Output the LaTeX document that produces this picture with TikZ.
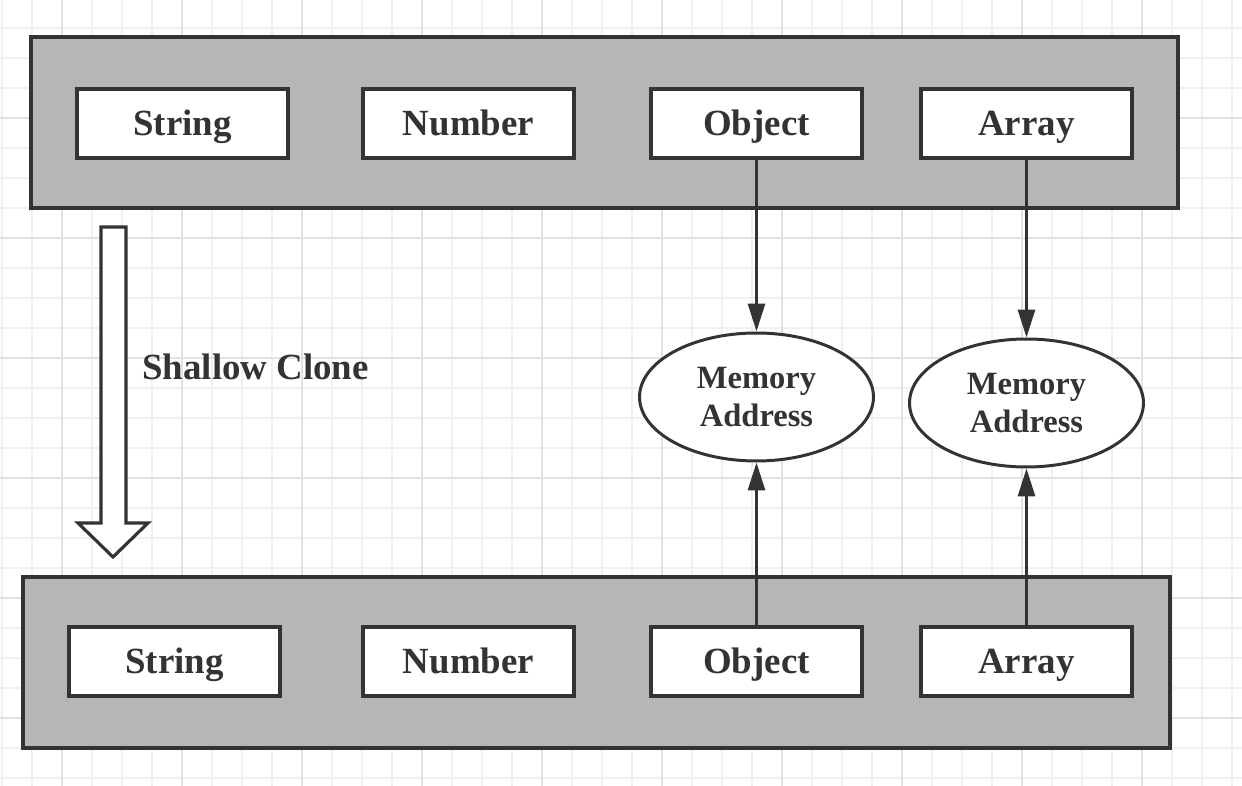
\documentclass[tikz,border=0pt]{standalone}
\usepackage{fontspec}
\setmainfont{Liberation Serif}
\usetikzlibrary{arrows.meta,positioning,shapes.geometric}
\definecolor{gridminor}{HTML}{F0F0F0}
\definecolor{gridmajor}{HTML}{E2E2E2}
\definecolor{panelgray}{HTML}{B6B6B6}
\definecolor{ink}{HTML}{333333}
\tikzset{
  panel/.style={draw=ink,fill=panelgray,line width=2.2pt,minimum width=22.94cm,minimum height=3.42cm,inner sep=0},
  typebox/.style={draw=ink,fill=white,line width=2.2pt,minimum width=4.22cm,minimum height=1.38cm,inner sep=0,
    text height=13.9pt,text depth=0pt,font=\fontsize{21}{25}\selectfont\bfseries,text=ink},
  memnode/.style={ellipse,draw=ink,fill=white,line width=1.7pt,minimum width=4.68cm,minimum height=2.56cm,inner sep=0,
    align=center,font=\fontsize{18.5}{22}\selectfont\bfseries,text=ink},
  link/.style={draw=ink,line width=1.7pt,-{Triangle[length=0.56cm,width=0.34cm]}}
}
\newcommand{\TypeBox}[3]% pos, name, text
{\node[typebox] (#2) at (#1) {#3};}
\newcommand{\Link}[2]%
{\draw[link] (#1) -- (#2);}

\begin{document}
\begin{tikzpicture}[x=0.02cm,y=-0.02cm]
  \useasboundingbox (0,0) rectangle (1242,786);
  \fill[white] (0,0) rectangle (1242,786);
  % grid paper
  \foreach \gx in {2,32,...,1242} \draw[gridminor,line width=0.8pt] (\gx,0) -- (\gx,786);
  \foreach \gy in {28,58,...,786} \draw[gridminor,line width=0.8pt] (0,\gy) -- (1242,\gy);
  \foreach \gx in {62,182,...,1242} \draw[gridmajor,line width=0.9pt] (\gx,0) -- (\gx,786);
  \foreach \gy in {118,238,...,786} \draw[gridmajor,line width=0.9pt] (0,\gy) -- (1242,\gy);

  % original
  \node[panel] (orig) at (604.5,122.5) {};
  \TypeBox{182.5,123.5}{strA}{String}
  \TypeBox{468.5,123.5}{numA}{Number}
  \TypeBox{756.5,123.5}{objA}{Object}
  \TypeBox{1026.5,123.5}{arrA}{Array}

  % clone
  \node[panel] (copy) at (596.5,662.5) {};
  \TypeBox{174.5,661.5}{strB}{String}
  \TypeBox{468.5,661.5}{numB}{Number}
  \TypeBox{756.5,661.5}{objB}{Object}
  \TypeBox{1026.5,661.5}{arrB}{Array}

  % shared references
  \node[memnode] (memObj) at (756.5,397) {Memory\\Address};
  \node[memnode] (memArr) at (1026.5,403) {Memory\\Address};
  \Link{objA.south}{memObj.north}
  \Link{arrA.south}{memArr.north}
  \Link{objB.north}{memObj.south}
  \Link{arrB.north}{memArr.south}

  % hollow arrow
  \draw[draw=ink,fill=white,line width=1.8pt,line join=miter]
    (101,227) -- (126,227) -- (126,523) -- (148,523) -- (113,557) -- (78,523) -- (101,523) -- cycle;
  \node[anchor=west,font=\fontsize{21}{25}\selectfont\bfseries,text=ink,inner sep=0] (lbl) at (142,367) {Shallow Clone};
\end{tikzpicture}
\end{document}
